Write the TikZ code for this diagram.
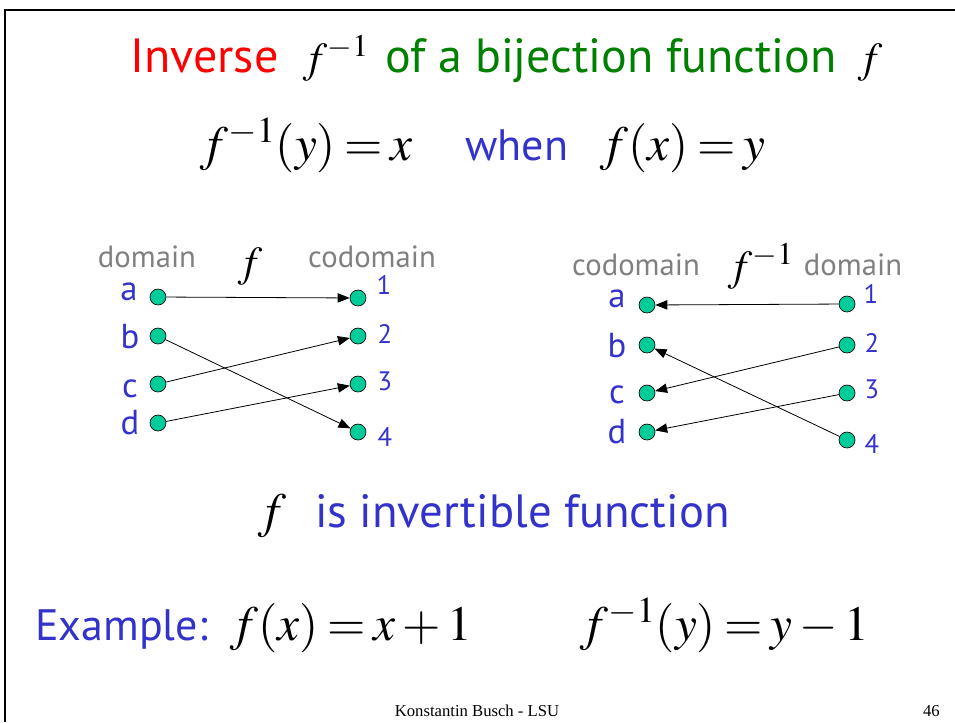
\documentclass[tikz,border=0pt]{standalone}
\usepackage{mathptmx}
\usepackage{fontspec}
\setmainfont{Liberation Serif}
\newfontfamily\cs{PT Sans}
\usetikzlibrary{arrows.meta}
\definecolor{tred}{RGB}{255,0,0}
\definecolor{tgreen}{RGB}{0,128,0}
\definecolor{tblue}{RGB}{51,51,204}
\definecolor{tgray}{RGB}{128,128,128}
\definecolor{dotgreen}{RGB}{0,204,153}
\thickmuskip=3mu
\medmuskip=2.5mu
\tikzset{
  dot/.style={circle, draw=black, line width=0.5pt, fill=dotgreen, minimum size=12pt, inner sep=0pt},
  arr/.style={-{Triangle[length=9pt,width=7pt]}, line width=0.6pt, shorten >=0pt},
  txt/.style={inner sep=0pt, anchor=base west},
  title/.style={txt, font=\cs\fontsize{36}{42}\selectfont},
  sub/.style={txt, font=\cs\fontsize{33}{38}\selectfont},
  inv/.style={txt, font=\cs\fontsize{35}{40}\selectfont},
  bigmath/.style={txt, font=\fontsize{37}{44}\selectfont},
  midmath/.style={txt, font=\fontsize{32}{38}\selectfont},
  head/.style={inner sep=0pt, anchor=base, text=tgray, font=\cs\fontsize{23}{28}\selectfont},
  letter/.style={inner sep=0pt, anchor=base, text=tblue, font=\cs\fontsize{26}{30}\selectfont},
  num/.style={inner sep=0pt, anchor=base, text=tblue, font=\cs\fontsize{20}{24}\selectfont},
}
\begin{document}
\begin{tikzpicture}[x=0.75pt,y=-0.75pt]
\useasboundingbox (0,0) rectangle (955,722);
% frame
\draw[line width=2pt] (5,722) -- (5,10) -- (955,10);
% title
\node[title, text=tred] (t1) at (130,72) {Inverse};
\node[midmath] (t2) at (303,72) {$f^{-1}$};
\node[title, text=tgreen] (t3) at (385,72) {of a bijection function};
\node[midmath] (t4) at (858,72) {$f$};
% line 2
\node[bigmath] (l1) at (200,160) {$f^{-1}(y)=x$};
\node[sub, text=tblue] (l2) at (465,160) {when};
\node[bigmath] (l3) at (600,160) {$f(x)=y$};
% left diagram
\node[head] (hd1) at (147,267) {domain};
\node[midmath, anchor=base] (hf1) at (250,276) {$f$};
\node[head] (hc1) at (372,267) {codomain};
\node[dot] (la) at (158,297) {};
\node[dot] (lb) at (158,336) {};
\node[dot] (lc) at (158,384) {};
\node[dot] (ld) at (158,423) {};
\node[dot] (l1d) at (358,298) {};
\node[dot] (l2d) at (358,336) {};
\node[dot] (l3d) at (358,384) {};
\node[dot] (l4d) at (358,432) {};
\node[letter] (lta) at (129,300) {a};
\node[letter] (ltb) at (130,348) {b};
\node[letter] (ltc) at (130,397) {c};
\node[letter] (ltd) at (130,434) {d};
\node[num] (ln1) at (384,294) {1};
\node[num] (ln2) at (385,343) {2};
\node[num] (ln3) at (385,390) {3};
\node[num] (ln4) at (385,446) {4};
\draw[arr] (la) -- (l1d);
\draw[arr] (lb) -- (l4d);
\draw[arr] (lc) -- (l2d);
\draw[arr] (ld) -- (l3d);
% right diagram
\node[head] (hc2) at (636,275) {codomain};
\node[midmath] (hf2) at (728,280) {$f^{-1}$};
\node[head] (hd2) at (853,275) {domain};
\node[dot] (ra) at (647,305) {};
\node[dot] (rb) at (647,345) {};
\node[dot] (rc) at (647,393) {};
\node[dot] (rd) at (647,432) {};
\node[dot] (r1) at (847,304) {};
\node[dot] (r2) at (847,345) {};
\node[dot] (r3) at (847,393) {};
\node[dot] (r4) at (847,440) {};
\node[letter] (rta) at (617,307) {a};
\node[letter] (rtb) at (617,357) {b};
\node[letter] (rtc) at (617,403) {c};
\node[letter] (rtd) at (617,443) {d};
\node[num] (rn1) at (871,303) {1};
\node[num] (rn2) at (872,352) {2};
\node[num] (rn3) at (872,398) {3};
\node[num] (rn4) at (872,453) {4};
\draw[arr] (r1) -- (ra);
\draw[arr] (r2) -- (rc);
\draw[arr] (r3) -- (rd);
\draw[arr] (r4) -- (rb);
% invertible
\node[bigmath] (if) at (258,527) {$f$};
\node[inv, text=tblue] (it) at (315,527) {is invertible function};
% example
\node[sub, text=tblue] (ex) at (35,640) {Example:};
\node[bigmath] (e1) at (230,640) {$f(x)=x+1$};
\node[bigmath] (e2) at (580,640) {$f^{-1}(y)=y-1$};
% footer
\node[inner sep=0pt, anchor=base, font=\fontsize{12.5}{15}\selectfont] (ft) at (477,716) {Konstantin Busch - LSU};
\node[inner sep=0pt, anchor=base east, font=\fontsize{12.5}{15}\selectfont] (pg) at (940,716) {46};
\end{tikzpicture}
\end{document}
